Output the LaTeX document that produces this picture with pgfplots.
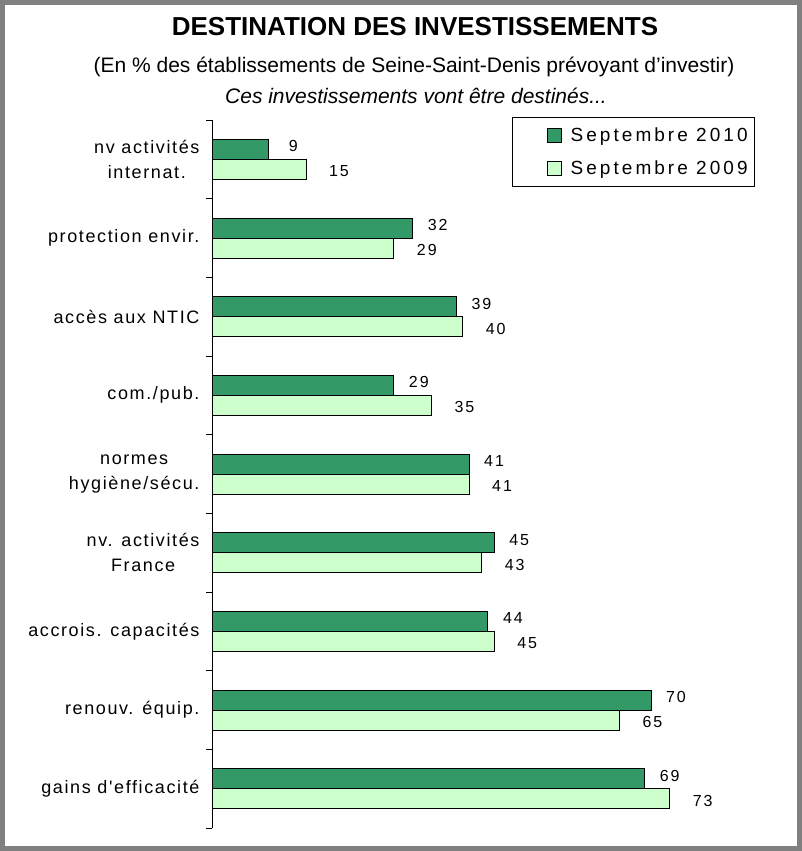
\documentclass[border=0pt]{standalone}
\usepackage{pgfplots}
\pgfplotsset{compat=1.18}
\usepackage{fontspec}
\setmainfont{Liberation Sans}
\newfontfamily\catfont[LetterSpace=9]{Liberation Sans}
\newfontfamily\legfont[LetterSpace=16]{Liberation Sans}
\newfontfamily\valfont[LetterSpace=12]{Liberation Sans}
\definecolor{dkg}{HTML}{339966}
\definecolor{ltg}{HTML}{CCFFCC}
\definecolor{frame}{HTML}{808080}
\begin{document}
\begin{tikzpicture}[x=1pt,y=1pt]
\fill[white] (0,0) rectangle (802,851);
\draw[frame, line width=5pt] (2.5,2.5) rectangle (799.5,848.5);
\node[font=\bfseries\fontsize{26}{26}\selectfont] at (415,824.5) {DESTINATION DES INVESTISSEMENTS};
\node[font=\fontsize{21}{21}\selectfont] at (414,784) {(En \% des établissements de Seine-Saint-Denis prévoyant d'investir)};
\node[font=\itshape\fontsize{21}{21}\selectfont] at (416,755) {Ces investissements vont être destinés...};
\begin{axis}[
  at={(212pt,23pt)}, anchor=south west,
  scale only axis, width=564.3pt, height=708pt,
  xmin=0, xmax=90,
  ymin=-0.5, ymax=8.5, y dir=reverse,
  axis x line=none, axis y line*=left,
  axis line style={black, line width=0.8pt, -},
  xbar, bar width=20pt,
  ytick={0,...,8},
  yticklabels={{nv activités\\internat.},{protection envir.},{accès aux NTIC},{com./pub.},{normes\\hygiène/sécu.},{nv. activités\\France},{accrois. capacités},{renouv. équip.},{gains d'efficacité}},
  yticklabel style={align=center, font=\catfont\fontsize{18}{25}\selectfont, xshift=-9pt},
  major tick length=0pt,
  minor ytick={-0.5,0.5,...,8.5},
  minor tick length=6pt,
  tick align=outside,
  tick style={black, line width=0.8pt},
  /pgf/number format/assume math mode=true,
  nodes near coords,
  legend style={at={(0.9623,1.0042)}, anchor=north east, draw=black, line width=0.8pt, font=\legfont\fontsize{19}{19}\selectfont, row sep=14pt, inner xsep=5pt, inner ysep=8pt},
  legend cell align=left,
  legend image code/.code={\path (0pt,0pt) (50pt,0pt); \draw[#1, line width=0.8pt] (29pt,-7pt) rectangle (43pt,7pt);},
]
\addplot[draw=black, line width=0.8pt, fill=dkg, bar shift=10pt,
  every node near coord/.append style={font=\valfont\fontsize{16}{16}\selectfont, black, anchor=center, xshift=25pt, yshift=3pt}]
  coordinates {(9,0) (32,1) (39,2) (29,3) (41,4) (45,5) (44,6) (70,7) (69,8)};
\addplot[draw=black, line width=0.8pt, fill=ltg, bar shift=-10pt,
  every node near coord/.append style={font=\valfont\fontsize{16}{16}\selectfont, black, anchor=center, xshift=33pt, yshift=-2pt}]
  coordinates {(15,0) (29,1) (40,2) (35,3) (41,4) (43,5) (45,6) (65,7) (73,8)};
\legend{Septembre 2010, Septembre 2009}
\end{axis}
\end{tikzpicture}
\end{document}
